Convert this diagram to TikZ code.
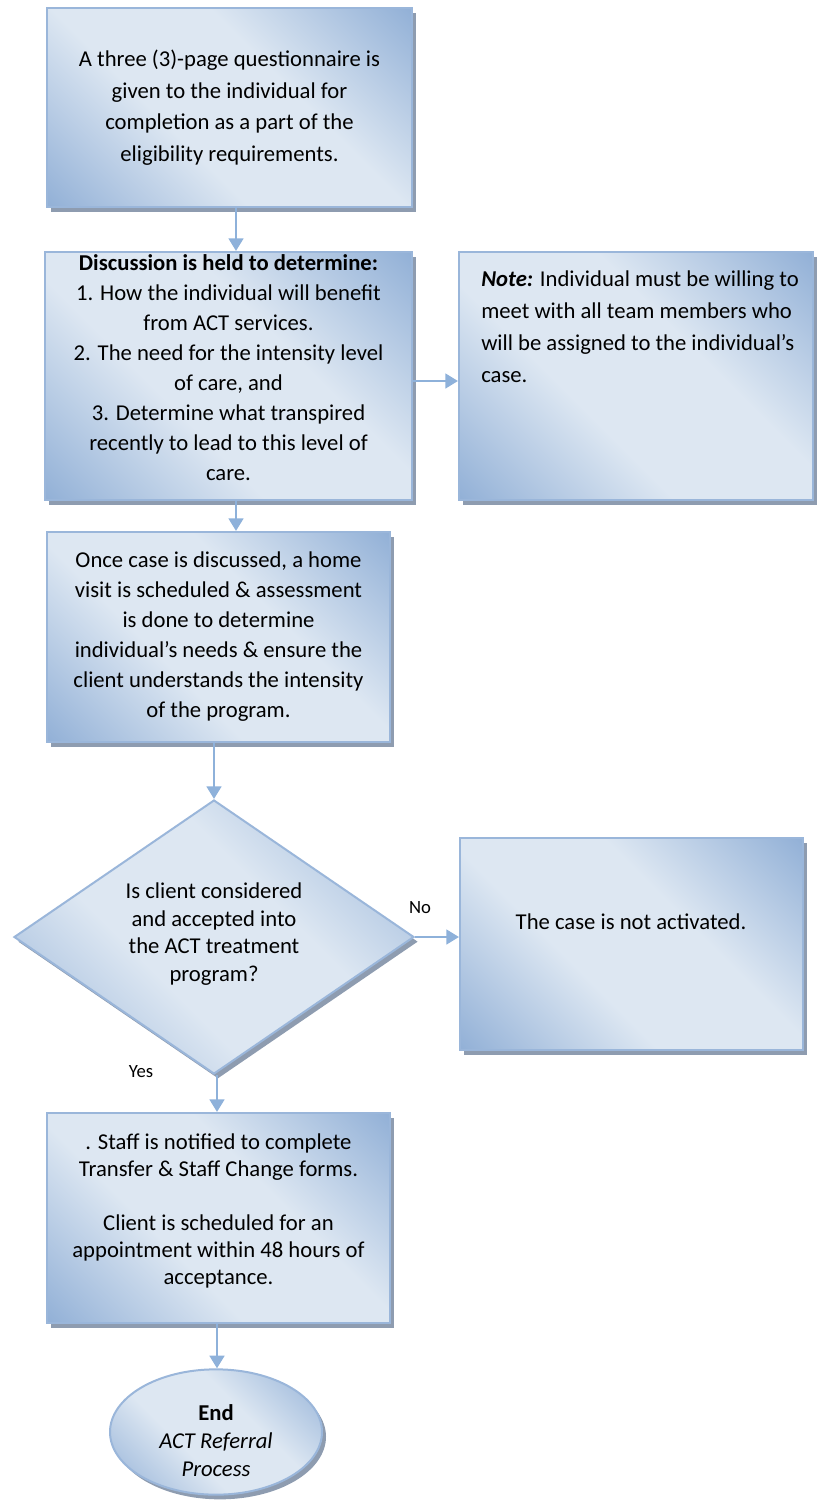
\documentclass[tikz,border=0pt]{standalone}
\usepackage{fontspec}
\setmainfont{Carlito}
\usetikzlibrary{shapes.geometric,shadows,arrows.meta}
\definecolor{bdark}{HTML}{93B1D7}
\definecolor{blight}{HTML}{DDE7F2}
\definecolor{bline}{HTML}{9AB6DA}
\definecolor{shad}{HTML}{8E9CB0}
\definecolor{arr}{HTML}{8EB1DA}
\pgfdeclareverticalshading{boxgrad}{100bp}{color(0bp)=(bdark); color(15bp)=(bdark); color(40bp)=(blight); color(60bp)=(blight); color(85bp)=(bdark); color(100bp)=(bdark)}
\tikzset{
  boxshade/.style={draw=bline, line width=1.5pt,
    shade, shading=boxgrad, shading angle=-45,
    drop shadow={shadow xshift=3pt, shadow yshift=-3.5pt, fill=shad, opacity=1}},
  flowbox/.style={boxshade, rectangle, inner sep=0pt, align=center},
  txt/.style={inner sep=0pt, align=center},
  conn/.style={draw=arr, line width=2pt, -{Triangle[width=11pt,length=9.5pt]}},
  lbl/.style={font=\fontsize{14}{16}\selectfont, inner sep=0pt}
}
\begin{document}
\begin{tikzpicture}[x=0.75pt,y=-0.75pt]
\useasboundingbox (0,0) rectangle (817,1503);

\node[flowbox, minimum width=273.75pt, minimum height=149.25pt,
      font=\fontsize{17}{23.6}\selectfont] (b1) at (229.5,107.5)
  {A three (3)-page questionnaire is\\given to the individual for\\completion as a part of the\\eligibility requirements.};

\node[flowbox, minimum width=275.25pt, minimum height=186pt] (b2) at (228.5,376) {};
\node[txt, font=\fontsize{17}{22.5}\selectfont] (b2text) at (228.5,368)
  {\textbf{Discussion is held to determine:}\\1. How the individual will benefit\\from ACT services.\\2. The need for the intensity level\\of care, and\\3. Determine what transpired\\recently to lead to this level of\\care.};

\node[flowbox, minimum width=265.5pt, minimum height=186pt] (note) at (636,376) {};
\node[anchor=north west, align=left, inner sep=0pt,
      font=\fontsize{17}{24}\selectfont] (notetext) at (481,270)
  {\textbf{\textit{Note:}} Individual must be willing to\\meet with all team members who\\will be assigned to the individual’s\\case.};

\node[flowbox, minimum width=257.25pt, minimum height=157.5pt,
      font=\fontsize{17}{22.5}\selectfont] (b3) at (218.5,637)
  {Once case is discussed, a home\\visit is scheduled \& assessment\\is done to determine\\individual’s needs \& ensure the\\client understands the intensity\\of the program.};

\node[boxshade, diamond, aspect=1.46, inner sep=0pt, minimum width=300pt, minimum height=205.5pt] (d) at (214,937) {};
\node[txt, font=\fontsize{17}{20.6}\selectfont] (dtext) at (214,934)
  {Is client considered\\and accepted into\\the ACT treatment\\program?};

\node[flowbox, minimum width=257.25pt, minimum height=159pt] (b5) at (631.5,944) {};
\node[txt, font=\fontsize{17}{20}\selectfont] (b5text) at (631,922) {The case is not activated.};

\node[flowbox, minimum width=257.25pt, minimum height=157.5pt] (b6) at (218.5,1218) {};
\node[txt, font=\fontsize{17}{20.3}\selectfont] (b6text) at (218.5,1211)
  {. Staff is notified to complete\\Transfer \& Staff Change forms.\\[20.3pt]Client is scheduled for an\\appointment within 48 hours of\\acceptance.};

\node[boxshade, ellipse, inner sep=0pt, minimum width=159pt, minimum height=94pt] (e) at (216,1432) {};
\node[txt, font=\fontsize{17}{21}\selectfont] (etext) at (216,1441)
  {\textbf{End}\\\textit{ACT Referral}\\\textit{Process}};

\node[lbl] (no) at (420,908) {No};
\node[lbl] (yes) at (141,1072) {Yes};

\coordinate (c1) at (236,0);
\coordinate (c2) at (0,381);
\coordinate (c3) at (217,0);

\draw[conn] (b1.south -| c1) -- (b2.north -| c1);
\draw[conn] (b2.south -| c1) -- (b3.north -| c1);
\draw[conn] (b2.east |- c2) -- (note.west |- c2);
\draw[conn] (b3.south -| d.north) -- (d.north);
\draw[conn] (d.east) -- (d.east -| b5.west);
\draw[conn] (d.south -| c3) -- (b6.north -| c3);
\draw[conn] (b6.south -| c3) -- (e.north -| c3);
\end{tikzpicture}
\end{document}
